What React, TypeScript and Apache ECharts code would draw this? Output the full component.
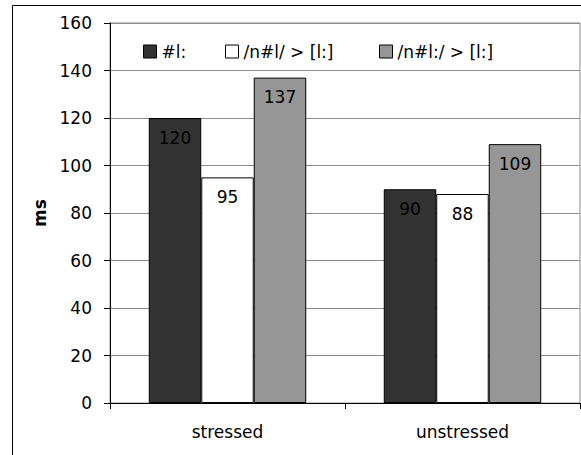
import React, { useEffect, useRef } from "react";
import * as echarts from "echarts";

const categories = ["stressed", "unstressed"];
const seriesNames = ["#l:", "/n#l/ > [l:]", "/n#l:/ > [l:]"];
const valuesL = [120, 90];
const valuesNL = [95, 88];
const valuesNLL = [137, 109];
const yTicks = { min: 0, max: 160, interval: 20 };

const FONT = "DejaVu Sans";
const colors = ["#333333", "#ffffff", "#969696"];
const legendLefts = [143, 225, 379];

export default function App() {
  const ref = useRef<HTMLDivElement>(null);
  useEffect(() => {
    document.body.style.margin = "0";
    const chart = echarts.init(ref.current!, null, { renderer: "svg" });
    const seriesData = [valuesL, valuesNL, valuesNLL];
    chart.setOption({
      animation: false,
      backgroundColor: "#ffffff",
      textStyle: { fontFamily: FONT, fontSize: 17, color: "#000" },
      grid: {
        left: 110,
        right: 1,
        top: 23,
        bottom: 52,
        show: true,
        borderColor: "#8c8c8c",
        borderWidth: 1,
        backgroundColor: "transparent",
      },
      legend: seriesNames.map((n, i) => ({
        data: [n],
        left: legendLefts[i],
        top: 43,
        padding: 0,
        itemWidth: 13,
        itemHeight: 13,
        icon: "rect",
        itemStyle: { borderColor: "#000", borderWidth: 1 },
        textStyle: { fontFamily: FONT, fontSize: 17, color: "#000" },
      })),
      xAxis: {
        type: "category",
        data: categories,
        axisLine: { lineStyle: { color: "#000", width: 1 } },
        axisTick: { show: true, length: 6, lineStyle: { color: "#000" } },
        axisLabel: { margin: 20, fontFamily: FONT, fontSize: 17, color: "#000" },
      },
      yAxis: {
        type: "value",
        min: yTicks.min,
        max: yTicks.max,
        interval: yTicks.interval,
        name: "ms",
        nameLocation: "middle",
        nameGap: 56,
        nameTextStyle: { fontFamily: FONT, fontSize: 17, fontWeight: "bold", color: "#000" },
        axisLine: { show: true, lineStyle: { color: "#000", width: 1 } },
        axisTick: { show: true, length: 6, lineStyle: { color: "#000" } },
        axisLabel: { margin: 18, fontFamily: FONT, fontSize: 17, color: "#000" },
        splitLine: { show: true, lineStyle: { color: "#8c8c8c", width: 1 } },
      },
      graphic: [
        {
          type: "rect",
          shape: { x: 12.5, y: 5.5, width: 700, height: 700 },
          style: { fill: "none", stroke: "#000", lineWidth: 1 },
          z: 100,
          silent: true,
        },
      ],
      series: seriesNames.map((n, i) => ({
        name: n,
        type: "bar",
        data: seriesData[i],
        barGap: "0%",
        barCategoryGap: "33%",
        itemStyle: { color: colors[i], borderColor: "#000", borderWidth: 1 },
        label: {
          show: true,
          position: "insideTop",
          distance: 11,
          fontFamily: FONT,
          fontSize: 17,
          color: "#000",
        },
      })),
    });
    return () => chart.dispose();
  }, []);
  return <div ref={ref} style={{ width: 581, height: 455 }} />;
}
